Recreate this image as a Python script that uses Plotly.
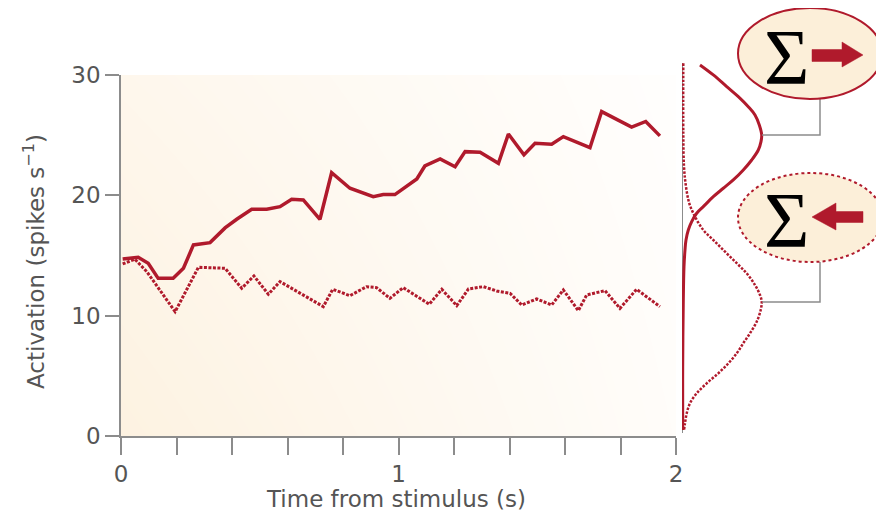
import plotly.graph_objects as go

# the page body has an 8px margin; lay the figure out in reference pixels
OFF = 8
W, H = 884 - OFF, 520 - OFF
RED = "#b01a2c"
GRAY = "#8c8c8c"
TXT = "#555555"
SANS = "DejaVu Sans, Liberation Sans, Arial, sans-serif"
SERIF = "Liberation Serif, Times New Roman, serif"

# ---- data ----
t_pref = [0.006, 0.062, 0.098, 0.134, 0.188, 0.225, 0.261, 0.321, 0.375, 0.417,
          0.471, 0.525, 0.573, 0.615, 0.657, 0.717, 0.759, 0.825, 0.909, 0.945,
          0.987, 1.041, 1.066, 1.095, 1.150, 1.204, 1.240, 1.294, 1.360, 1.396,
          1.452, 1.492, 1.552, 1.594, 1.690, 1.732, 1.840, 1.891, 1.942]
act_pref = [14.71, 14.85, 14.35, 13.10, 13.10, 13.94, 15.88, 16.07, 17.29, 18.01,
            18.84, 18.84, 19.06, 19.67, 19.62, 18.01, 21.88, 20.59, 19.89, 20.06,
            20.06, 21.00, 21.36, 22.44, 23.02, 22.38, 23.63, 23.58, 22.66, 25.10,
            23.36, 24.33, 24.25, 24.88, 23.96, 26.96, 25.67, 26.14, 24.94]

t_null = [0.006, 0.050, 0.093, 0.195, 0.279, 0.375, 0.435, 0.479, 0.531, 0.573,
          0.729, 0.763, 0.825, 0.885, 0.921, 0.969, 1.017, 1.111, 1.156, 1.210,
          1.252, 1.306, 1.354, 1.402, 1.444, 1.498, 1.552, 1.594, 1.648, 1.678,
          1.744, 1.798, 1.858, 1.942]
act_null = [14.30, 14.69, 13.66, 10.33, 14.02, 13.94, 12.28, 13.30, 11.78, 12.83,
            10.75, 12.19, 11.66, 12.41, 12.33, 11.44, 12.33, 10.95, 12.19, 10.83,
            12.22, 12.41, 12.05, 11.86, 10.89, 11.39, 10.89, 12.14, 10.42, 11.72,
            12.08, 10.61, 12.19, 10.75]

dist_pref_act = [30.84, 30.01, 29.04, 28.21, 27.37, 26.68, 25.85, 25.02, 24.47, 23.77,
                 22.94, 22.11, 21.28, 20.59, 19.89, 19.06, 18.51, 17.82, 17.12, 16.29,
                 15.46, 14.07, 11.31, 5.76, 1.60, 0.50]
dist_pref_den = [18.0, 31.3, 44.7, 56.3, 66.3, 73.0, 77.3, 79.7, 79.0, 76.3,
                 69.7, 61.3, 51.3, 41.3, 31.3, 21.3, 14.7, 9.7, 6.3, 4.0,
                 3.0, 2.0, 1.3, 0.7, 0.7, 0.7]

dist_null_act = [30.98, 25.16, 22.39, 20.72, 19.34, 18.23, 17.12, 16.29, 15.32, 14.36,
                 13.52, 12.55, 11.72, 11.16, 10.47, 9.50, 8.54, 7.71, 6.87, 6.04,
                 5.21, 4.38, 3.55, 2.72, 1.89, 1.06, 0.50]
dist_null_den = [1.3, 1.3, 2.0, 4.0, 7.3, 13.0, 21.3, 31.3, 43.0, 54.7,
                 64.7, 73.0, 78.0, 79.7, 78.7, 74.7, 68.0, 61.3, 54.7, 46.3,
                 36.3, 24.7, 14.7, 8.0, 4.7, 3.0, 2.0]

x_ticks = [0, 1, 2]
x_ticklabels = ["0", "1", "2"]
y_ticks = [0, 10, 20, 30]

# background gradient values (orange strength) at the plot corners
bg_x = [0, 2]
bg_y = [0, 30]
bg_z = [[1.0, 0.12], [0.6, 0.0]]


def fx(x):
    return (x - OFF) / W


def fy(y):
    return 1 - (y - OFF) / H


fig = go.Figure()

fig.add_trace(go.Heatmap(x=bg_x, y=bg_y, z=bg_z, zsmooth="best", showscale=False,
                         hoverinfo="skip",
                         colorscale=[[0, "#fffefd"], [0.5, "#fef8ef"], [1, "#fdf2e1"]]))

fig.add_trace(go.Scatter(x=t_null, y=act_null, mode="lines",
                         line=dict(color=RED, width=3, dash="3px,1.5px"),
                         showlegend=False, hoverinfo="skip"))
fig.add_trace(go.Scatter(x=t_pref, y=act_pref, mode="lines",
                         line=dict(color=RED, width=3.5),
                         showlegend=False, hoverinfo="skip"))

# distribution panel
fig.add_trace(go.Scatter(x=dist_null_den, y=dist_null_act, mode="lines",
                         line=dict(color=RED, width=2.5, dash="2.5px,1.5px", shape="spline"),
                         xaxis="x2", yaxis="y2", showlegend=False, hoverinfo="skip"))
fig.add_trace(go.Scatter(x=dist_pref_den, y=dist_pref_act, mode="lines",
                         line=dict(color=RED, width=3, shape="spline"),
                         xaxis="x2", yaxis="y2", showlegend=False, hoverinfo="skip"))

fig.update_layout(
    width=W, height=H,
    margin=dict(l=0, r=0, t=0, b=0, pad=0),
    paper_bgcolor="white", plot_bgcolor="rgba(0,0,0,0)",
    font=dict(family=SANS, color=TXT, size=22),
    xaxis=dict(domain=[fx(121), fx(676)], range=[0, 2], tickvals=x_ticks,
               ticktext=x_ticklabels, ticks="outside", ticklen=17, tickwidth=1.5,
               tickcolor=GRAY, showline=True, linecolor=GRAY, linewidth=1.5,
               showgrid=False, zeroline=False, tickfont=dict(family=SANS, size=23, color=TXT),
               minor=dict(dtick=0.2, ticks="outside", ticklen=17, tickwidth=1.5,
                          tickcolor=GRAY, showgrid=False),
               anchor="y", automargin=False),
    yaxis=dict(domain=[fy(436), fy(75)], range=[0, 30], tickvals=y_ticks,
               ticks="outside", ticklen=14, tickwidth=1.5, tickcolor=GRAY,
               showline=True, linecolor=GRAY, linewidth=1.5, showgrid=False,
               zeroline=False, tickfont=dict(family=SANS, size=23, color=TXT), anchor="x",
               automargin=False),
    xaxis2=dict(domain=[fx(682), fx(782)], range=[0, 100], visible=False, anchor="y2"),
    yaxis2=dict(domain=[fy(436), fy(63)], range=[0, 31], visible=False, anchor="x2"),
    # pixel-space overlay (reference pixel coordinates) for decorations and free text
    xaxis3=dict(domain=[0, 1], range=[OFF, 884], visible=False, anchor="y3"),
    yaxis3=dict(domain=[0, 1], range=[520, OFF], visible=False, anchor="x3"),
)

shapes = []
# baseline of the distribution panel
shapes.append(dict(type="line", xref="x2", yref="y2", x0=0, x1=0, y0=0.25, y1=31,
                   line=dict(color=GRAY, width=2), layer="below"))
# connectors
shapes.append(dict(type="path", xref="x3", yref="y3",
                   path="M762,135 L820,135 L820,99", line=dict(color=GRAY, width=1.5)))
shapes.append(dict(type="path", xref="x3", yref="y3",
                   path="M762,302 L820,302 L820,262", line=dict(color=GRAY, width=1.5)))
# ellipses
shapes.append(dict(type="circle", xref="x3", yref="y3", x0=738, x1=882, y0=8, y1=99,
                   fillcolor="#fcefd9", line=dict(color=RED, width=2)))
shapes.append(dict(type="circle", xref="x3", yref="y3", x0=738, x1=883, y0=173, y1=262,
                   fillcolor="#fcefd9", line=dict(color=RED, width=2, dash="3px,3px")))
# arrows
shapes.append(dict(type="path", xref="x3", yref="y3",
                   path="M812,49.5 L842,49.5 L842,42 L863,55 L842,67 L842,61.5 L812,61.5 Z",
                   fillcolor=RED, line=dict(color=RED, width=0.5)))
shapes.append(dict(type="path", xref="x3", yref="y3",
                   path="M863,211.5 L836,211.5 L836,203 L812,217 L836,230 L836,222.5 L863,222.5 Z",
                   fillcolor=RED, line=dict(color=RED, width=0.5)))
fig.update_layout(shapes=shapes)

annotations = [
    dict(text="Time from stimulus (s)", x=396, y=499, xref="x3", yref="y3",
         showarrow=False, font=dict(family=SANS, size=23, color=TXT),
         xanchor="center", yanchor="middle"),
    dict(text="Activation (spikes s<sup>\u22121</sup>)", x=34, y=262, xref="x3",
         yref="y3", showarrow=False, textangle=-90, font=dict(family=SANS, size=23, color=TXT),
         xanchor="center", yanchor="middle"),
    dict(text="\u03a3", x=786, y=56, xref="x3", yref="y3", showarrow=False,
         font=dict(family=SERIF, size=78, color="black"), xanchor="center", yanchor="middle"),
    dict(text="\u03a3", x=786, y=219, xref="x3", yref="y3", showarrow=False,
         font=dict(family=SERIF, size=78, color="black"), xanchor="center", yanchor="middle"),
]
fig.update_layout(annotations=annotations)

fig.write_html("out.html")
